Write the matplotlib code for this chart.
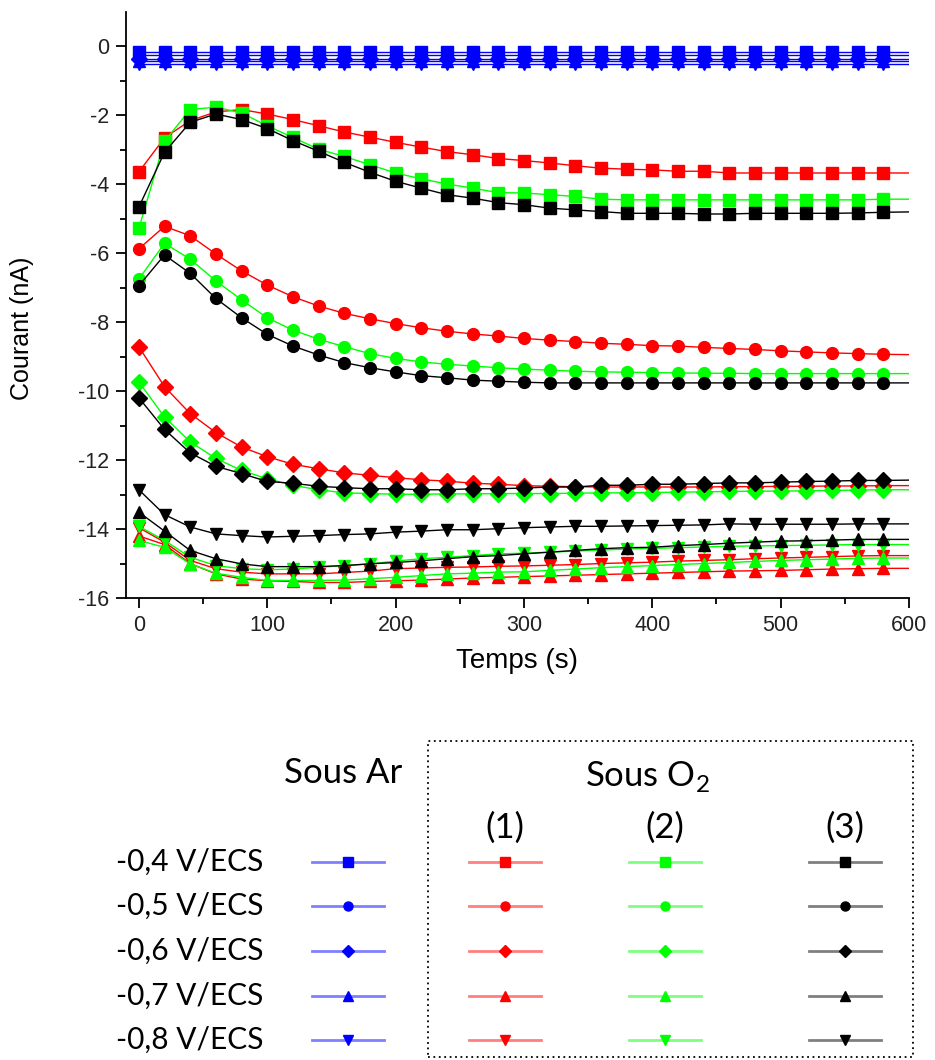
import matplotlib
matplotlib.use("Agg")
import matplotlib.pyplot as plt
from matplotlib.lines import Line2D
from matplotlib.patches import Rectangle

# time axis, one point every 20 s (marker on every point but the last)
temps = list(range(0, 620, 20))

# ---- sous Ar (blue), flat lines
ar_04 = [-0.15] * 31
ar_05 = [-0.25] * 31
ar_06 = [-0.35] * 31
ar_07 = [-0.43] * 31
ar_08 = [-0.52] * 31

# ---- sous O2, essai (1) red
o1_04 = [-3.64, -2.65, -2.15, -1.90, -1.83, -1.96, -2.12, -2.30, -2.48, -2.63, -2.78,
         -2.92, -3.05, -3.14, -3.25, -3.31, -3.38, -3.46, -3.53, -3.56, -3.58,
         -3.62, -3.62, -3.67, -3.67, -3.67, -3.67, -3.67, -3.67, -3.67, -3.67]
o1_05 = [-5.87, -5.22, -5.49, -6.02, -6.51, -6.92, -7.26, -7.53, -7.74, -7.90, -8.04,
         -8.16, -8.26, -8.34, -8.40, -8.47, -8.52, -8.56, -8.61, -8.64, -8.68,
         -8.69, -8.73, -8.76, -8.79, -8.83, -8.86, -8.89, -8.91, -8.93, -8.94]
o1_06 = [-8.71, -9.87, -10.65, -11.20, -11.62, -11.90, -12.12, -12.25, -12.37, -12.44, -12.51,
         -12.57, -12.61, -12.67, -12.70, -12.74, -12.76, -12.77, -12.78, -12.78, -12.78,
         -12.78, -12.78, -12.77, -12.77, -12.76, -12.76, -12.75, -12.75, -12.74, -12.74]
o1_07 = [-14.20, -14.45, -15.00, -15.30, -15.45, -15.50, -15.52, -15.55, -15.55, -15.52, -15.50,
         -15.48, -15.45, -15.42, -15.40, -15.38, -15.36, -15.34, -15.32, -15.30, -15.28,
         -15.26, -15.24, -15.22, -15.21, -15.20, -15.18, -15.16, -15.15, -15.14, -15.14]
o1_08 = [-13.96, -14.38, -14.91, -15.15, -15.25, -15.30, -15.30, -15.30, -15.26, -15.22, -15.15,
         -15.13, -15.11, -15.10, -15.08, -15.07, -15.05, -15.03, -15.00, -14.98, -14.96,
         -14.93, -14.91, -14.89, -14.86, -14.84, -14.82, -14.80, -14.78, -14.77, -14.77]

# ---- sous O2, essai (2) green
o2_04 = [-5.28, -2.75, -1.83, -1.76, -1.93, -2.30, -2.64, -2.98, -3.19, -3.43, -3.67,
         -3.84, -3.99, -4.11, -4.24, -4.25, -4.30, -4.35, -4.43, -4.45, -4.45,
         -4.45, -4.45, -4.45, -4.45, -4.45, -4.45, -4.45, -4.45, -4.43, -4.43]
o2_05 = [-6.75, -5.71, -6.17, -6.80, -7.35, -7.87, -8.23, -8.49, -8.71, -8.91, -9.05,
         -9.15, -9.22, -9.27, -9.32, -9.36, -9.39, -9.42, -9.44, -9.45, -9.46,
         -9.47, -9.48, -9.48, -9.49, -9.49, -9.49, -9.49, -9.49, -9.49, -9.49]
o2_06 = [-9.73, -10.75, -11.47, -11.95, -12.30, -12.54, -12.73, -12.86, -12.95, -12.97, -12.99,
         -12.99, -12.98, -12.98, -12.97, -12.97, -12.97, -12.96, -12.95, -12.95, -12.94,
         -12.93, -12.92, -12.91, -12.90, -12.90, -12.89, -12.88, -12.87, -12.86, -12.86]
o2_07 = [-14.33, -14.53, -15.01, -15.28, -15.40, -15.49, -15.49, -15.49, -15.48, -15.44, -15.40,
         -15.35, -15.30, -15.28, -15.25, -15.24, -15.20, -15.16, -15.12, -15.09, -15.06,
         -15.03, -15.00, -14.97, -14.94, -14.91, -14.89, -14.87, -14.85, -14.84, -14.84]
o2_08 = [-13.92, -14.33, -14.82, -15.06, -15.15, -15.18, -15.16, -15.11, -15.06, -15.01, -14.93,
         -14.86, -14.82, -14.77, -14.72, -14.70, -14.67, -14.64, -14.61, -14.58, -14.56,
         -14.54, -14.52, -14.50, -14.49, -14.48, -14.47, -14.46, -14.45, -14.45, -14.45]

# ---- sous O2, essai (3) black
o3_04 = [-4.66, -3.07, -2.20, -1.96, -2.12, -2.38, -2.73, -3.04, -3.36, -3.65, -3.91,
         -4.11, -4.30, -4.40, -4.53, -4.59, -4.69, -4.74, -4.79, -4.84, -4.84,
         -4.84, -4.86, -4.86, -4.84, -4.84, -4.84, -4.84, -4.83, -4.81, -4.80]
o3_05 = [-6.94, -6.05, -6.58, -7.31, -7.87, -8.35, -8.69, -8.95, -9.17, -9.32, -9.44,
         -9.55, -9.61, -9.68, -9.71, -9.74, -9.76, -9.76, -9.76, -9.76, -9.76,
         -9.76, -9.76, -9.76, -9.76, -9.76, -9.76, -9.76, -9.76, -9.76, -9.76]
o3_06 = [-10.19, -11.11, -11.79, -12.18, -12.39, -12.62, -12.67, -12.76, -12.80, -12.83, -12.83,
         -12.86, -12.86, -12.83, -12.83, -12.81, -12.78, -12.78, -12.73, -12.73, -12.70,
         -12.70, -12.68, -12.66, -12.66, -12.64, -12.62, -12.61, -12.59, -12.59, -12.58]
o3_07 = [-13.51, -14.06, -14.62, -14.86, -15.01, -15.09, -15.09, -15.09, -15.06, -15.01, -14.97,
         -14.92, -14.86, -14.80, -14.77, -14.72, -14.67, -14.62, -14.57, -14.54, -14.53,
         -14.48, -14.45, -14.41, -14.38, -14.35, -14.34, -14.32, -14.30, -14.30, -14.30]
o3_08 = [-12.86, -13.58, -13.94, -14.14, -14.19, -14.23, -14.21, -14.19, -14.16, -14.14, -14.09,
         -14.06, -14.02, -14.02, -13.99, -13.96, -13.94, -13.92, -13.92, -13.91, -13.90,
         -13.89, -13.88, -13.85, -13.86, -13.86, -13.86, -13.86, -13.85, -13.85, -13.85]

potentiels = ["-0,4 V/ECS", "-0,5 V/ECS", "-0,6 V/ECS", "-0,7 V/ECS", "-0,8 V/ECS"]
marqueurs = ["s", "o", "D", "^", "v"]
tailles = [8, 8.5, 8, 9, 9]

groupes = [
    ("#0000ff", [ar_04, ar_05, ar_06, ar_07, ar_08]),
    ("#ff0000", [o1_04, o1_05, o1_06, o1_07, o1_08]),
    ("#00ff00", [o2_04, o2_05, o2_06, o2_07, o2_08]),
    ("#000000", [o3_04, o3_05, o3_06, o3_07, o3_08]),
]

plt.rcParams["font.family"] = ["Liberation Sans", "DejaVu Sans"]
plt.rcParams["axes.unicode_minus"] = False
plt.rcParams["mathtext.fontset"] = "custom"
plt.rcParams["mathtext.rm"] = "Lato"

W, H = 935, 1060
fig = plt.figure(figsize=(W / 100, H / 100), dpi=100)

ax = fig.add_axes([126 / W, 1 - 598 / H, (909 - 126) / W, (598 - 12) / H])

for couleur, series in groupes:
    for y, m, ms in zip(series, marqueurs, tailles):
        ax.plot(temps, y, color=couleur, lw=1.0, marker=m, ms=ms,
                markevery=slice(0, len(temps) - 1), mec=couleur, mfc=couleur)

ax.set_xlim(-10, 600)
ax.set_ylim(-16, 1)
ax.set_xticks(range(0, 601, 100))
ax.set_xticks(range(50, 600, 100), minor=True)
ax.set_yticks(range(-16, 1, 2))
ax.set_yticks(range(-15, 1, 2), minor=True)
for s in ["top", "right"]:
    ax.spines[s].set_visible(False)
ax.spines["left"].set_linewidth(1.3)
ax.spines["bottom"].set_linewidth(1.3)
ax.tick_params(which="major", direction="out", length=7, width=1.3, labelsize=15.5,
               labelcolor="#222222", pad=5)
ax.tick_params(which="minor", direction="out", length=4, width=1.3)
ax.set_xlabel("Temps (s)", fontsize=20)
ax.set_ylabel("Courant (nA)", fontsize=18)
ax.xaxis.set_label_coords(0.5, -0.086)
ax.yaxis.set_label_coords(-0.117, 0.46)


# ---- custom legend table below the plot (positions in figure pixels)
def fx(x):
    return x / W


def fy(y):
    return 1 - y / H


legend_font = ["Lato", "DejaVu Sans"]

fig.add_artist(Rectangle((fx(428), fy(1057)), fx(913) - fx(428), fy(741) - fy(1057),
                         transform=fig.transFigure, fill=False, ls=(0, (1, 2)), lw=1.3, ec="black"))

fig.text(fx(343), fy(773), "Sous Ar", fontsize=25, family=legend_font, ha="center", va="center")
fig.text(fx(647), fy(776), "Sous O$_2$", fontsize=25, family=legend_font, ha="center", va="center")
col_x = [348, 505, 665, 845]
for x, lab in zip(col_x[1:], ["(1)", "(2)", "(3)"]):
    fig.text(fx(x), fy(828), lab, fontsize=25, family=legend_font, ha="center", va="center")

rows_y = [862, 906, 951, 996, 1040]
for y, lab in zip(rows_y, potentiels):
    fig.text(fx(263), fy(y), lab, fontsize=21.5, family=legend_font, ha="right", va="center")

for (couleur, _), x in zip(groupes, col_x):
    for y, m in zip(rows_y, marqueurs):
        fig.add_artist(Line2D([fx(x - 36), fx(x + 36)], [fy(y), fy(y)], transform=fig.transFigure,
                              color=couleur, lw=2.0, alpha=0.5))
        fig.add_artist(Line2D([fx(x)], [fy(y)], transform=fig.transFigure, marker=m, ms=6.5,
                              color=couleur, ls="none"))

fig.savefig("out.png", dpi=100)
